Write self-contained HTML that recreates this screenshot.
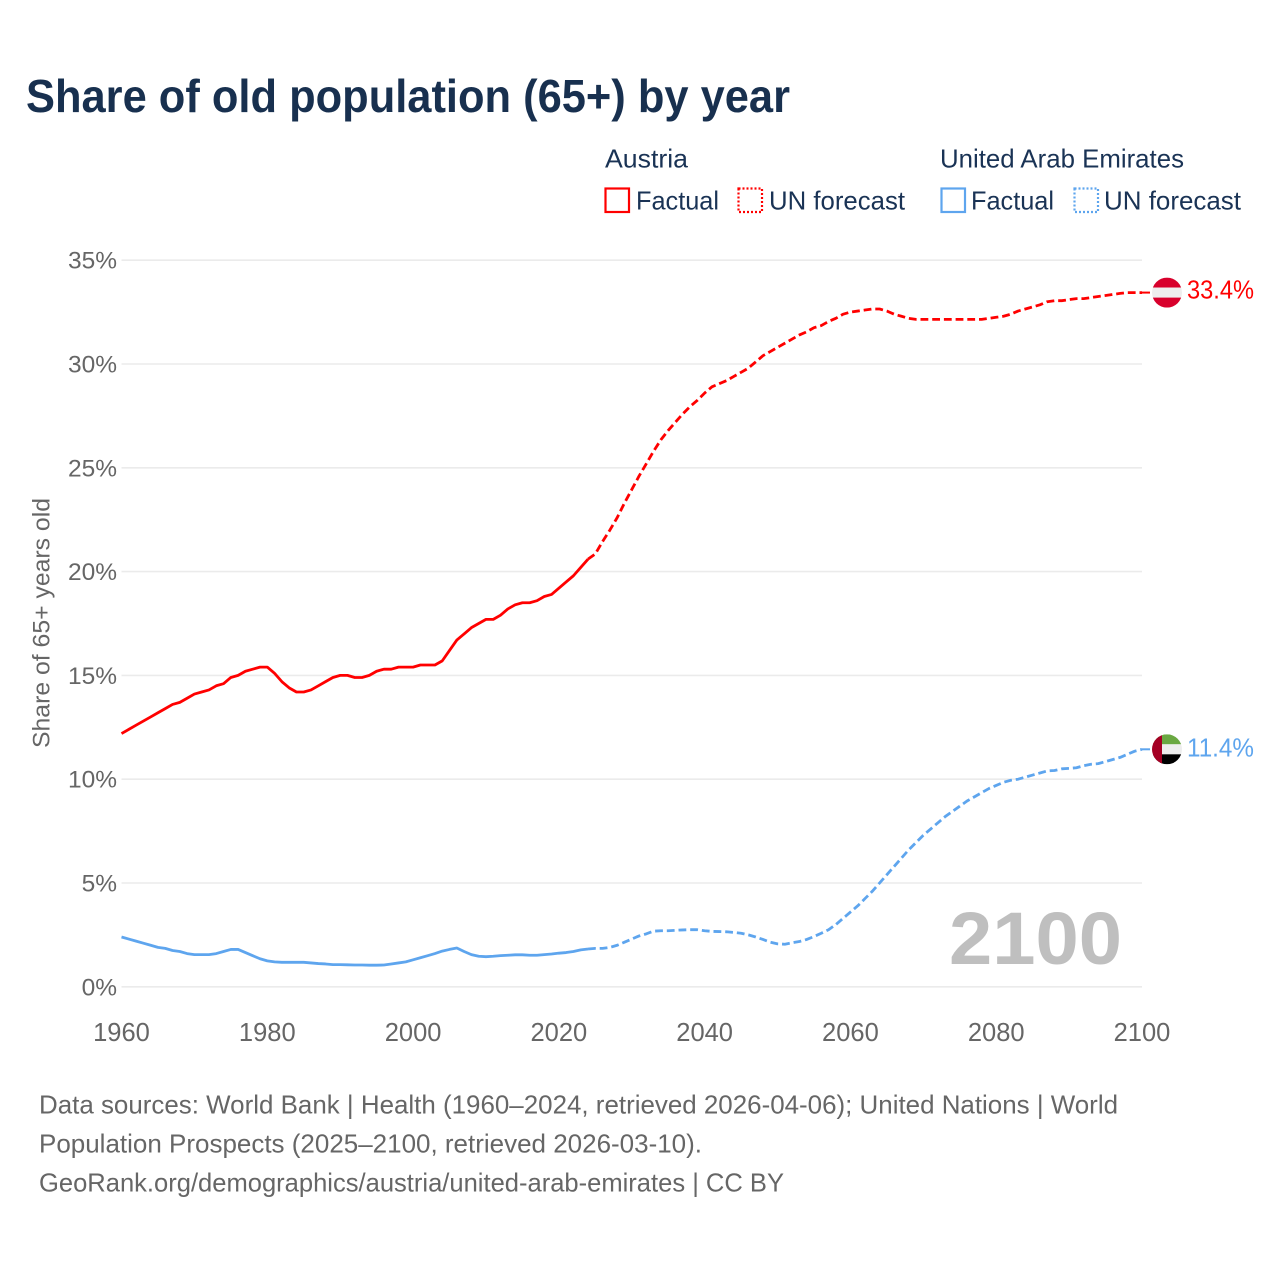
<!DOCTYPE html>
<html lang="en">
<head>
<meta charset="utf-8">
<title>Share of old population (65+) by year</title>
<style>
html,body{margin:0;padding:0;background:#fff;width:1280px;height:1280px;overflow:hidden}
svg{display:block;font-family:"Liberation Sans",sans-serif}
</style>
</head>
<body>
<svg id="chart" xmlns="http://www.w3.org/2000/svg" width="1280" height="1280" viewBox="0 0 1280 1280">
  <text x="26" y="112" font-size="46" font-weight="700" fill="#18304f" textLength="764" lengthAdjust="spacingAndGlyphs">Share of old population (65+) by year</text>

  <g font-size="26" fill="#1a3355">
    <text x="605" y="167.5" textLength="83" lengthAdjust="spacingAndGlyphs">Austria</text>
    <text x="940" y="167.5" textLength="244" lengthAdjust="spacingAndGlyphs">United Arab Emirates</text>
    <rect x="605.5" y="188.5" width="23.5" height="23.5" fill="none" stroke="#ff0000" stroke-width="2.2"/>
    <text x="636" y="209.5" textLength="83" lengthAdjust="spacingAndGlyphs">Factual</text>
    <rect x="738.5" y="188.5" width="23.5" height="23.5" fill="none" stroke="#ff0000" stroke-width="2.2" stroke-dasharray="2 2"/>
    <text x="769" y="209.5" textLength="136" lengthAdjust="spacingAndGlyphs">UN forecast</text>
    <rect x="941.5" y="188.5" width="23.5" height="23.5" fill="none" stroke="#5ea5ee" stroke-width="2.2"/>
    <text x="971" y="209.5" textLength="83" lengthAdjust="spacingAndGlyphs">Factual</text>
    <rect x="1074.5" y="188.5" width="23.5" height="23.5" fill="none" stroke="#5ea5ee" stroke-width="2.2" stroke-dasharray="2 2"/>
    <text x="1104" y="209.5" textLength="137" lengthAdjust="spacingAndGlyphs">UN forecast</text>
  </g>

  <g id="grid"></g>
  <g id="y-ticks"></g>
  <g id="x-ticks"></g>

  <text transform="translate(49.5,748) rotate(-90)" font-size="24.5" fill="#666666" textLength="250" lengthAdjust="spacingAndGlyphs">Share of 65+ years old</text>

  <text x="949" y="964" font-size="74" font-weight="700" fill="#bfbfbf" textLength="173" lengthAdjust="spacingAndGlyphs">2100</text>

  <g id="series"></g>

  <defs>
    <clipPath id="clip-austria"><circle id="clip-austria-circle" cx="1167" cy="293" r="15"/></clipPath>
    <clipPath id="clip-uae"><circle id="clip-uae-circle" cx="1167" cy="749" r="15"/></clipPath>
  </defs>
  <g id="flag-austria" clip-path="url(#clip-austria)">
    <rect x="1152" y="278" width="30" height="10" fill="#d8002c"/>
    <rect x="1152" y="288" width="30" height="10" fill="#eeeeee"/>
    <rect x="1152" y="298" width="30" height="10" fill="#d8002c"/>
  </g>
  <g id="flag-uae" clip-path="url(#clip-uae)">
    <rect x="1152" y="734" width="30" height="10" fill="#6aa842"/>
    <rect x="1152" y="744" width="30" height="10" fill="#eeeeee"/>
    <rect x="1152" y="754" width="30" height="10" fill="#000000"/>
    <rect x="1152" y="734" width="10" height="30" fill="#a50024"/>
  </g>
  <text id="end-austria" x="1187" y="299" font-size="25.5" fill="#ff0000" textLength="67" lengthAdjust="spacingAndGlyphs"></text>
  <text id="end-uae" x="1187" y="756" font-size="25.5" fill="#5ea5ee" textLength="67" lengthAdjust="spacingAndGlyphs"></text>

  <g font-size="26" fill="#666666">
    <text x="39" y="1113.5" textLength="1079" lengthAdjust="spacingAndGlyphs">Data sources: World Bank | Health (1960–2024, retrieved 2026-04-06); United Nations | World</text>
    <text x="39" y="1152.5" textLength="663" lengthAdjust="spacingAndGlyphs">Population Prospects (2025–2100, retrieved 2026-03-10).</text>
    <text x="39" y="1191.5" textLength="745" lengthAdjust="spacingAndGlyphs">GeoRank.org/demographics/austria/united-arab-emirates | CC BY</text>
  </g>
</svg>

<script>
const yTickValues = [0, 5, 10, 15, 20, 25, 30, 35];
const xTickYears = [1960, 1980, 2000, 2020, 2040, 2060, 2080, 2100];
const factualStartYear = 1960;
const forecastStartYear = 2025;

const austriaFactual = [
  12.2,12.4,12.6,12.8,13.0,13.2,13.4,13.6,13.7,13.9,
  14.1,14.2,14.3,14.5,14.6,14.9,15.0,15.2,15.3,15.4,
  15.4,15.1,14.7,14.4,14.2,14.2,14.3,14.5,14.7,14.9,
  15.0,15.0,14.9,14.9,15.0,15.2,15.3,15.3,15.4,15.4,
  15.4,15.5,15.5,15.5,15.7,16.2,16.7,17.0,17.3,17.5,
  17.7,17.7,17.9,18.2,18.4,18.5,18.5,18.6,18.8,18.9,
  19.2,19.5,19.8,20.2,20.6
];
const austriaForecast = [
  20.85,21.45,22.0,22.6,23.3,23.95,24.6,25.2,25.8,26.35,
  26.8,27.2,27.6,27.95,28.25,28.6,28.9,29.05,29.2,29.4,
  29.6,29.8,30.1,30.4,30.6,30.8,31.0,31.2,31.4,31.55,
  31.75,31.85,32.05,32.2,32.4,32.5,32.55,32.6,32.65,32.65,
  32.55,32.4,32.3,32.2,32.15,32.15,32.15,32.15,32.15,32.15,
  32.15,32.15,32.15,32.15,32.2,32.25,32.3,32.4,32.55,32.65,
  32.75,32.85,33.0,33.05,33.05,33.1,33.15,33.15,33.2,33.25,
  33.3,33.35,33.4,33.44,33.44,33.44
];
const uaeFactual = [
  2.4,2.3,2.2,2.1,2.0,1.9,1.85,1.75,1.7,1.6,
  1.55,1.55,1.55,1.6,1.7,1.8,1.8,1.65,1.5,1.35,
  1.25,1.2,1.18,1.18,1.18,1.18,1.15,1.12,1.1,1.07,
  1.07,1.06,1.05,1.05,1.04,1.04,1.05,1.1,1.15,1.2,
  1.3,1.4,1.5,1.6,1.72,1.8,1.87,1.7,1.55,1.47,
  1.45,1.47,1.5,1.52,1.54,1.54,1.52,1.52,1.55,1.58,
  1.62,1.65,1.7,1.78,1.82
];
const uaeForecast = [
  1.85,1.85,1.9,2.0,2.15,2.3,2.45,2.55,2.68,2.7,
  2.7,2.72,2.74,2.75,2.75,2.7,2.67,2.66,2.65,2.62,
  2.58,2.5,2.4,2.28,2.15,2.07,2.05,2.12,2.18,2.28,
  2.42,2.58,2.75,3.0,3.3,3.6,3.9,4.25,4.6,5.0,
  5.4,5.8,6.2,6.6,6.95,7.3,7.6,7.9,8.2,8.45,
  8.7,8.95,9.15,9.35,9.55,9.7,9.85,9.95,10.0,10.1,
  10.2,10.3,10.4,10.42,10.5,10.52,10.55,10.65,10.72,10.75,
  10.85,10.95,11.05,11.2,11.35,11.44
];

const SVGNS = 'http://www.w3.org/2000/svg';
const plot = { x0: 121.5, x1: 1142, y0: 986.8, y35: 260.2 };
function xScale(year) { return plot.x0 + (year - 1960) * (plot.x1 - plot.x0) / 140; }
function yScale(value) { return plot.y0 - value * (plot.y0 - plot.y35) / 35; }
function make(tag, attrs) {
  const el = document.createElementNS(SVGNS, tag);
  for (const k in attrs) el.setAttribute(k, attrs[k]);
  return el;
}
function linePath(values, startYear) {
  return values.map(function (v, i) {
    return (i ? 'L' : 'M') + xScale(startYear + i).toFixed(2) + ' ' + yScale(v).toFixed(2);
  }).join('');
}

const grid = document.getElementById('grid');
const yTicks = document.getElementById('y-ticks');
const xTicks = document.getElementById('x-ticks');
yTickValues.forEach(function (v) {
  const line = make('line', { x1: plot.x0, x2: plot.x1, y1: yScale(v), y2: yScale(v), stroke: '#ebebeb', 'stroke-width': 1.6 });
  
  
  grid.appendChild(line);
  const label = make('text', { x: 117, y: yScale(v) + 8.5, 'text-anchor': 'end', 'font-size': 24.5, fill: '#666666' });
  
  
  label.textContent = v + '%';
  yTicks.appendChild(label);
});
xTickYears.forEach(function (yr) {
  const label = make('text', { x: xScale(yr), y: 1041, 'text-anchor': 'middle', 'font-size': 25.5, fill: '#666666' });
  
  
  label.textContent = yr;
  xTicks.appendChild(label);
});

function drawSeries(slug, color, factual, forecast) {
  const group = document.getElementById('series');
  const solid = make('path', { d: linePath(factual, factualStartYear), fill: 'none', stroke: color, 'stroke-width': 2.8, 'stroke-linejoin': 'round' });
  
  
  group.appendChild(solid);
  const joined = [factual[factual.length - 1]].concat(forecast);
  const dashed = make('path', { d: linePath(joined, forecastStartYear - 1), fill: 'none', stroke: color, 'stroke-width': 2.8, 'stroke-linejoin': 'round', 'stroke-dasharray': '7.8 3.9' });
  
  
  group.appendChild(dashed);
  const last = forecast[forecast.length - 1];
  const stub = make('line', { x1: xScale(2100), x2: 1150, y1: yScale(last), y2: yScale(last), stroke: color, 'stroke-width': 2 });
  
  
  group.appendChild(stub);
  return last;
}
const austriaLast = drawSeries('austria', '#ff0000', austriaFactual, austriaForecast);
const uaeLast = drawSeries('uae', '#5ea5ee', uaeFactual, uaeForecast);

function placeEnd(slug, last, baseCy, baseLabelY) {
  const dy = yScale(last) - baseCy;
  document.getElementById('flag-' + slug).setAttribute('transform', 'translate(0,' + dy.toFixed(2) + ')');
  const label = document.getElementById('end-' + slug);
  label.setAttribute('y', (baseLabelY + dy).toFixed(2));
  label.textContent = last.toFixed(1) + '%';
}
placeEnd('austria', austriaLast, 293, 299);
placeEnd('uae', uaeLast, 749, 756);
</script>
</body>
</html>
